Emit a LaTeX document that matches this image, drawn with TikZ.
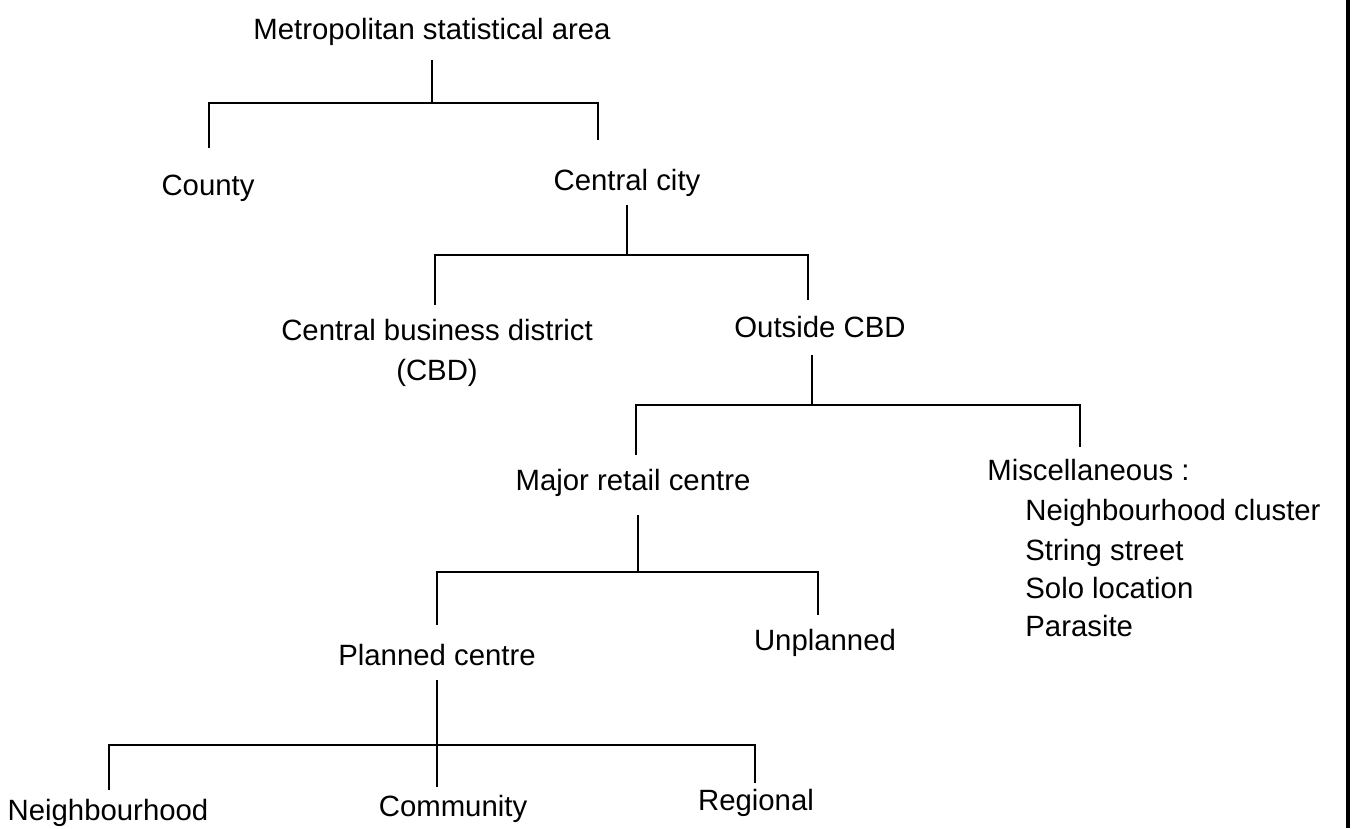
\documentclass[tikz,border=0pt]{standalone}
\usepackage{fontspec}
\setmainfont{Liberation Sans}
\usetikzlibrary{positioning}

\tikzset{lbl/.style={anchor=base,inner sep=0pt,font=\fontsize{16.7}{20}\selectfont},
  lblw/.style={lbl,anchor=base west},
  tree/.style={line width=1.1pt}}

\begin{document}
\begin{tikzpicture}[x=0.02cm,y=-0.02cm]
\useasboundingbox (0,0) rectangle (1358,828);

\node[lbl] (msa) at (432,40) {Metropolitan statistical area};
\node[lbl] (county) at (208,195) {County};
\node[lbl] (city) at (627,190) {Central city};
\node[lbl] (cbd) at (437,340) {Central business district};
\node[lbl] (cbdb) at (437,380) {(CBD)};
\node[lbl] (outcbd) at (820,337) {Outside CBD};
\node[lbl] (major) at (633,490) {Major retail centre};
\node[lblw] (misc) at (987,480) {Miscellaneous :};
\node[lblw] (mcl) at (1025,520) {Neighbourhood cluster};
\node[lblw] (mst) at (1025,560) {String street};
\node[lblw] (mso) at (1025,598) {Solo location};
\node[lblw] (mpa) at (1025,636) {Parasite};
\node[lbl] (planned) at (437,665) {Planned centre};
\node[lbl] (unpl) at (825,650) {Unplanned};
\node[lbl] (nbh) at (108,820) {Neighbourhood};
\node[lbl] (comm) at (453,816) {Community};
\node[lbl] (reg) at (756,810) {Regional};

\coordinate (s1) at (432,60);   \coordinate (k1) at (432,103);
\coordinate (a1) at (209,103);  \coordinate (b1) at (598,103);
\coordinate (a1e) at (209,148); \coordinate (b1e) at (598,140);
\draw[tree] (s1) -- (k1);
\draw[tree] (a1e) -- (a1) -- (b1) -- (b1e);

\coordinate (s2) at (627,205);  \coordinate (k2) at (627,255);
\coordinate (a2) at (435,255);  \coordinate (b2) at (808,255);
\coordinate (a2e) at (435,305); \coordinate (b2e) at (808,300);
\draw[tree] (s2) -- (k2);
\draw[tree] (a2e) -- (a2) -- (b2) -- (b2e);

\coordinate (s3) at (812,355);  \coordinate (k3) at (812,405);
\coordinate (a3) at (636,405);  \coordinate (b3) at (1080,405);
\coordinate (a3e) at (636,455); \coordinate (b3e) at (1080,447);
\draw[tree] (s3) -- (k3);
\draw[tree] (a3e) -- (a3) -- (b3) -- (b3e);

\coordinate (s4) at (638,515);  \coordinate (k4) at (638,572);
\coordinate (a4) at (437,572);  \coordinate (b4) at (818,572);
\coordinate (a4e) at (437,625); \coordinate (b4e) at (818,615);
\draw[tree] (s4) -- (k4);
\draw[tree] (a4e) -- (a4) -- (b4) -- (b4e);

\coordinate (s5) at (437,680);  \coordinate (k5) at (437,787);
\coordinate (a5) at (109,745);  \coordinate (b5) at (755,745);
\coordinate (a5e) at (109,790); \coordinate (b5e) at (755,783);
\draw[tree] (s5) -- (k5);
\draw[tree] (a5e) -- (a5) -- (b5) -- (b5e);

\draw[line width=2.3pt] (1348,0) -- (1348,828);
\end{tikzpicture}
\end{document}
